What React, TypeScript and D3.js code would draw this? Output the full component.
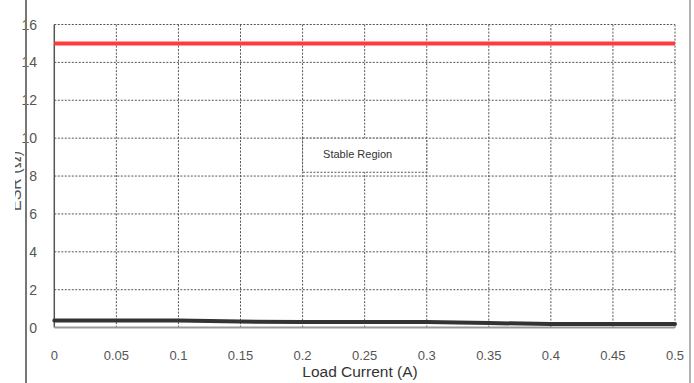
import React from "react";
import * as d3 from "d3";

const xTicks = [0, 0.05, 0.1, 0.15, 0.2, 0.25, 0.3, 0.35, 0.4, 0.45, 0.5];
const xTickLabels = ["0", "0.05", "0.1", "0.15", "0.2", "0.25", "0.3", "0.35", "0.4", "0.45", "0.5"];
const yTicks = [0, 2, 4, 6, 8, 10, 12, 14, 16];
const upperCurrent = [0, 0.5];
const upperEsr = [15, 15];
const lowerCurrent = [0, 0.1, 0.15, 0.2, 0.3, 0.35, 0.4, 0.5];
const lowerEsr = [0.37, 0.37, 0.32, 0.29, 0.29, 0.24, 0.19, 0.19];
const regionLabel = "Stable Region";
const xTitle = "Load Current (A)";
const yTitle = "ESR (Ω)";

const W = 694;
const H = 383;
const FONT = "'Liberation Sans', Arial, sans-serif";

export default function App() {
  const x = d3.scaleLinear().domain([0, 0.5]).range([54.3, 675]);
  const y = d3.scaleLinear().domain([0, 16]).range([327.6, 24.5]);
  const line = d3
    .line<[number, number]>()
    .x((d) => x(d[0]))
    .y((d) => y(d[1]));
  const upper = upperCurrent.map((c, i) => [c, upperEsr[i]] as [number, number]);
  const lower = lowerCurrent.map((c, i) => [c, lowerEsr[i]] as [number, number]);
  const grid = { stroke: "#555", strokeWidth: 1, strokeDasharray: "2,1.5" };

  return (
    <div style={{ position: "absolute", left: 0, top: 0 }}>
      <svg width={W} height={H} style={{ display: "block", background: "#fff" }}>
        <defs>
          <clipPath id="ylab">
            <rect x={15} y={0} width={20} height={H} />
          </clipPath>
        </defs>
        {/* grid */}
        {yTicks.filter((t) => t > 0).map((t) => (
          <line key={"gy" + t} x1={x(0)} x2={x(0.5)} y1={y(t)} y2={y(t)} {...grid} />
        ))}
        {xTicks.filter((t) => t > 0).map((t) => (
          <line key={"gx" + t} x1={x(t)} x2={x(t)} y1={y(0)} y2={y(16)} {...grid} />
        ))}
        {/* stable region box */}
        <rect
          x={x(0.2)}
          y={y(10)}
          width={x(0.3) - x(0.2)}
          height={y(8.2) - y(10)}
          fill="#fff"
          {...grid}
        />
        <text x={x(0.25) - 7} y={y(10) + 20} fontSize={11} fontFamily={FONT} fill="#333" textAnchor="middle">
          {regionLabel}
        </text>
        {/* axes */}
        <line x1={x(0)} x2={x(0)} y1={y(16)} y2={y(0)} stroke="#555" strokeWidth={1.5} />
        <line x1={x(0)} x2={x(0.5)} y1={y(0)} y2={y(0)} stroke="#999" strokeWidth={2} />
        {/* series */}
        <path d={line(upper) || ""} fill="none" stroke="#ff3b3b" strokeWidth={4} />
        <path d={line(lower) || ""} fill="none" stroke="#333" strokeWidth={4} strokeLinecap="round" />
        {/* tick labels */}
        {yTicks.map((t) => (
          <text key={"ty" + t} x={37} y={y(t) + 5} fontSize={14} fontFamily={FONT} fill="#555" textAnchor="end">
            {t}
          </text>
        ))}
        {xTicks.map((t, i) => (
          <text key={"tx" + t} x={x(t)} y={359.5} fontSize={13} fontFamily={FONT} fill="#555" textAnchor="middle">
            {xTickLabels[i]}
          </text>
        ))}
        <text x={360} y={377} fontSize={15.5} fontFamily={FONT} fill="#333" textAnchor="middle">
          {xTitle}
        </text>
        <g clipPath="url(#ylab)">
          <text
            transform={`translate(21,181) rotate(-90)`}
            fontSize={16}
            fontFamily={FONT}
            fill="#555"
            textAnchor="middle"
          >
            {yTitle}
          </text>
        </g>
        {/* frame lines */}
        <line x1={26} x2={26} y1={0} y2={H} stroke="#777" strokeWidth={2} />
        <line x1={690} x2={690} y1={0} y2={H} stroke="#999" strokeWidth={1.5} />
      </svg>
    </div>
  );
}
